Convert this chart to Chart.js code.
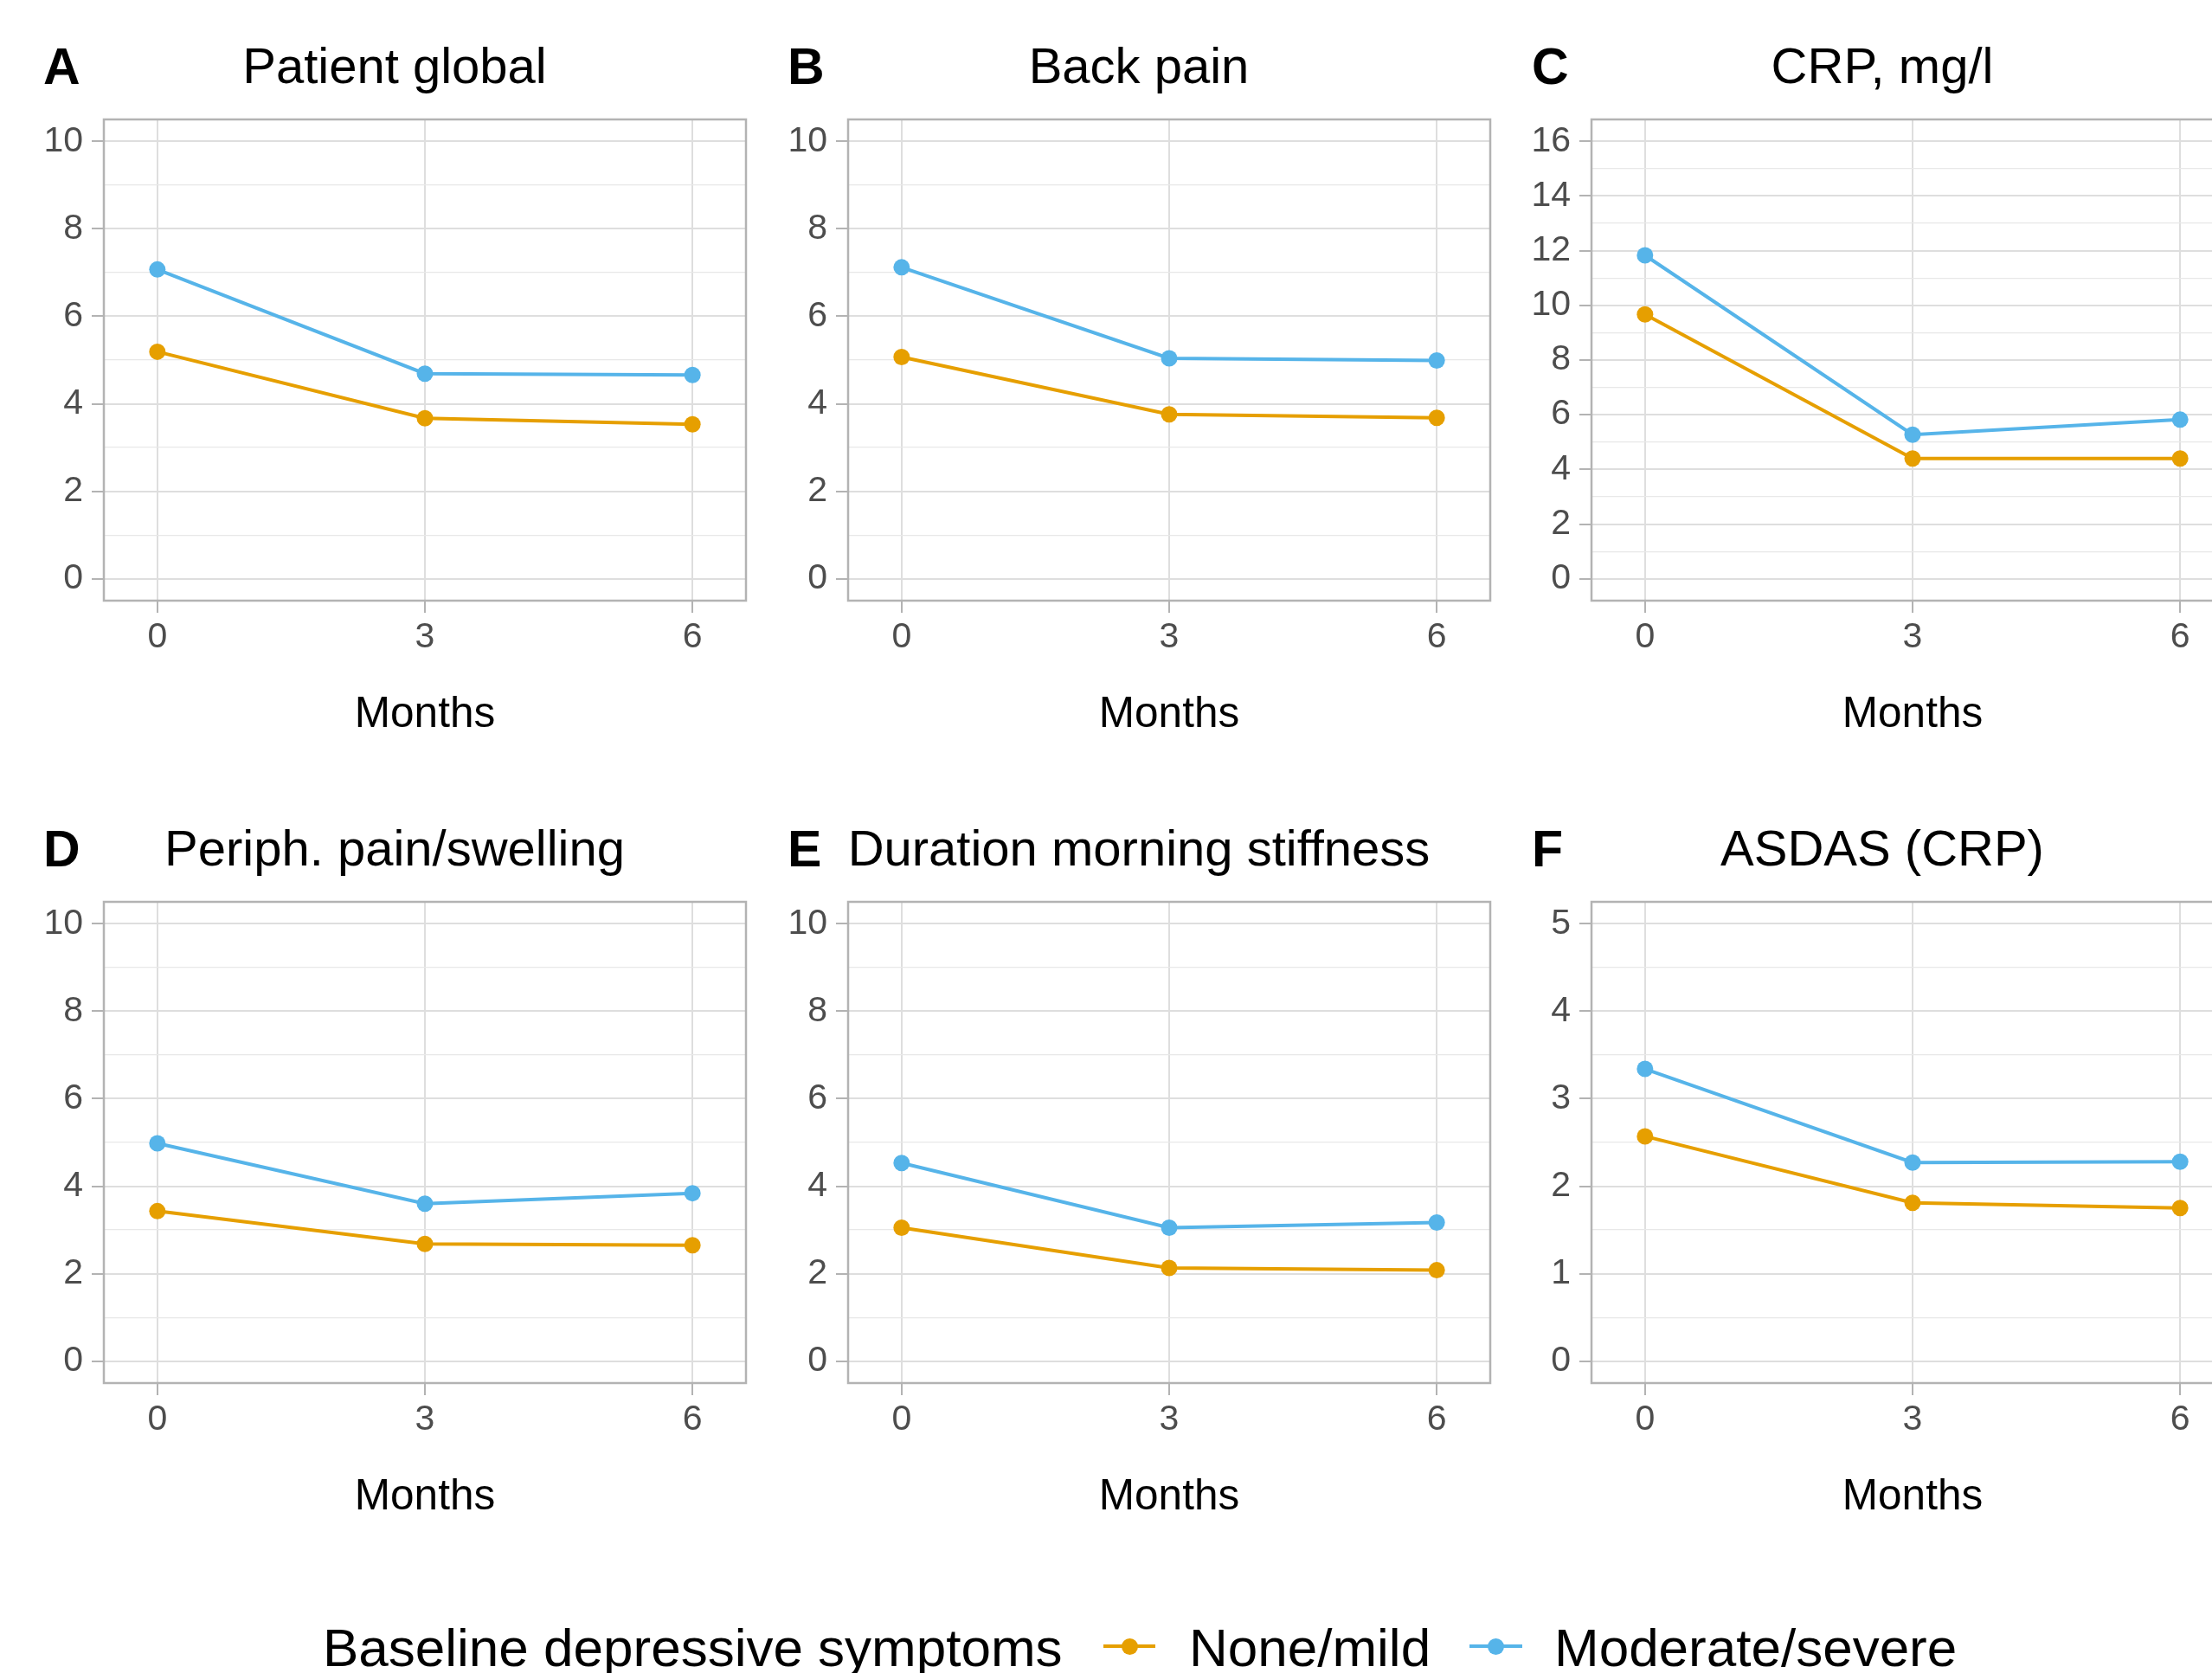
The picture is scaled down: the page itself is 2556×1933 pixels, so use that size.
<!DOCTYPE html>
<html>
<head>
<meta charset="utf-8">
<script src="https://cdn.jsdelivr.net/npm/chart.js@4.4.1/dist/chart.umd.min.js"></script>
<style>
  html, body { margin: 0; padding: 0; background: #fff; overflow: hidden; }
  #page { position: relative; width: 2556px; height: 1933px; overflow: hidden; font-family: "Liberation Sans", Arial, sans-serif; }
  .panel { position: absolute; }
  .tag { position: absolute; font-size: 59px; font-weight: bold; line-height: 59px; color: #000; }
  .leg-text { position: absolute; top: 1873px; font-size: 62px; line-height: 62px; color: #000; white-space: nowrap; }
  .leg-key { position: absolute; top: 1884px; height: 36px; }
  .leg-key .ln { position: absolute; left: 0; right: 0; top: 16px; height: 4px; }
  .leg-key .pt { position: absolute; left: 50%; top: 8.5px; width: 19px; height: 19px; margin-left: -9.5px; border-radius: 50%; }
</style>
</head>
<body>
<div id="page">
  <div class="leg-text" style="left: 373px;">Baseline depressive symptoms</div>
  <div class="leg-key" style="left: 1275px; width: 60px;"><div class="ln" style="background:#E69F00"></div><div class="pt" style="background:#E69F00"></div></div>
  <div class="leg-text" style="left: 1374px;">None/mild</div>
  <div class="leg-key" style="left: 1698px; width: 61px;"><div class="ln" style="background:#56B4E9"></div><div class="pt" style="background:#56B4E9"></div></div>
  <div class="leg-text" style="left: 1796px;">Moderate/severe</div>
</div>
<script>
(() => {
  'use strict';

  const FONT = '"Liberation Sans", Arial, sans-serif';

  // data
  const MONTHS = [0, 3, 6];
  const GROUPS = ['None/mild', 'Moderate/severe'];
  const COLORS = ['#E69F00', '#56B4E9'];

  const patientGlobalNone = [5.19, 3.67, 3.53];
  const patientGlobalModerate = [7.07, 4.69, 4.66];
  const backPainNone = [5.07, 3.76, 3.68];
  const backPainModerate = [7.12, 5.04, 4.99];
  const crpNone = [9.67, 4.40, 4.40];
  const crpModerate = [11.83, 5.27, 5.82];
  const periphNone = [3.43, 2.68, 2.65];
  const periphModerate = [4.98, 3.60, 3.84];
  const stiffnessNone = [3.05, 2.13, 2.08];
  const stiffnessModerate = [4.53, 3.05, 3.17];
  const asdasNone = [2.57, 1.81, 1.75];
  const asdasModerate = [3.34, 2.27, 2.28];

  const PANELS = [
    { tag: 'A', title: 'Patient global', yMax: 10, yStep: 2, none: patientGlobalNone, moderate: patientGlobalModerate },
    { tag: 'B', title: 'Back pain', yMax: 10, yStep: 2, none: backPainNone, moderate: backPainModerate },
    { tag: 'C', title: 'CRP, mg/l', yMax: 16, yStep: 2, none: crpNone, moderate: crpModerate },
    { tag: 'D', title: 'Periph. pain/swelling', yMax: 10, yStep: 2, none: periphNone, moderate: periphModerate },
    { tag: 'E', title: 'Duration morning stiffness', yMax: 10, yStep: 2, none: stiffnessNone, moderate: stiffnessModerate },
    { tag: 'F', title: 'ASDAS (CRP)', yMax: 5, yStep: 1, none: asdasNone, moderate: asdasModerate },
  ];

  // layout (px)
  const COL_X = [0, 860, 1719];
  const ROW_Y = [0, 904];
  const CANVAS_W = 912;
  const CANVAS_H = 856;

  Chart.defaults.font.family = FONT;

  const panelBorder = {
    id: 'panelBorder',
    beforeDatasetsDraw(chart) {
      const { ctx, chartArea: a } = chart;
      ctx.save();
      ctx.strokeStyle = '#B3B3B3';
      ctx.lineWidth = 2.5;
      ctx.strokeRect(a.left, a.top, a.right - a.left, a.bottom - a.top);
      ctx.restore();
    },
  };

  const series = (values, i) => ({
    label: GROUPS[i],
    data: MONTHS.map((m, k) => ({ x: m, y: values[k] })),
    borderColor: COLORS[i],
    backgroundColor: COLORS[i],
    borderWidth: 4,
    pointRadius: 9.5,
    pointBorderWidth: 0,
    pointBackgroundColor: COLORS[i],
    tension: 0,
  });

  const makeChart = (canvas, p) => {
    const half = p.yStep / 2;
    const yTicks = [];
    for (let v = 0; v <= p.yMax + 1e-9; v += half) yTicks.push(Math.round(v * 100) / 100);
    const isMajor = (v) => Math.abs(v / p.yStep - Math.round(v / p.yStep)) < 1e-6;
    const pad = p.yMax * 0.05;

    return new Chart(canvas, {
      type: 'line',
      data: { datasets: [series(p.none, 0), series(p.moderate, 1)] },
      plugins: [panelBorder],
      options: {
        responsive: false,
        animation: false,
        events: [],
        layout: { padding: { left: 50, right: 50, top: 0, bottom: 0 } },
        plugins: {
          legend: { display: false },
          tooltip: { enabled: false },
          title: {
            display: true,
            text: p.title,
            color: '#000',
            font: { size: 58, weight: 'normal' },
            padding: { top: 45, bottom: 23.4 },
          },
        },
        scales: {
          x: {
            type: 'linear',
            bounds: 'data',
            min: -0.6,
            max: 6.6,
            afterBuildTicks: (s) => { s.ticks = MONTHS.map((v) => ({ value: v })); },
            afterFit: (s) => { s.height = 162; },
            ticks: {
              color: '#4D4D4D',
              font: { size: 41 },
              padding: 4,
              autoSkip: false,
              maxRotation: 0,
              callback: (v) => String(v),
            },
            grid: { color: '#DEDEDE', lineWidth: 2, tickLength: 14, tickColor: '#B3B3B3', tickWidth: 2 },
            border: { display: false },
            title: { display: true, text: 'Months', color: '#000', font: { size: 49.5 }, padding: 0 },
          },
          y: {
            type: 'linear',
            bounds: 'data',
            min: -pad,
            max: p.yMax + pad,
            afterBuildTicks: (s) => { s.ticks = yTicks.map((v) => ({ value: v })); },
            afterFit: (s) => { s.width = 70; },
            ticks: {
              color: '#4D4D4D',
              font: { size: 41 },
              padding: 10,
              autoSkip: false,
              callback: (v) => (isMajor(v) ? String(v) : ''),
            },
            grid: {
              color: (c) => (isMajor(c.tick.value) ? '#DEDEDE' : '#E8E8E8'),
              lineWidth: (c) => (isMajor(c.tick.value) ? 2 : 1.2),
              tickLength: 14,
              tickColor: (c) => (isMajor(c.tick.value) ? '#B3B3B3' : 'rgba(0,0,0,0)'),
              tickWidth: 2,
            },
            border: { display: false },
          },
        },
      },
    });
  };

  const page = document.getElementById('page');
  PANELS.forEach((p, i) => {
    const col = i % 3;
    const row = Math.floor(i / 3);

    const canvas = document.createElement('canvas');
    canvas.className = 'panel';
    canvas.width = CANVAS_W;
    canvas.height = CANVAS_H;
    canvas.style.left = `${COL_X[col]}px`;
    canvas.style.top = `${ROW_Y[row]}px`;
    page.appendChild(canvas);

    const tag = document.createElement('div');
    tag.className = 'tag';
    tag.textContent = p.tag;
    tag.style.left = `${50 + col * 860}px`;
    tag.style.top = `${48 + ROW_Y[row]}px`;
    page.appendChild(tag);

    makeChart(canvas, p);
  });
})();
</script>
</body>
</html>
